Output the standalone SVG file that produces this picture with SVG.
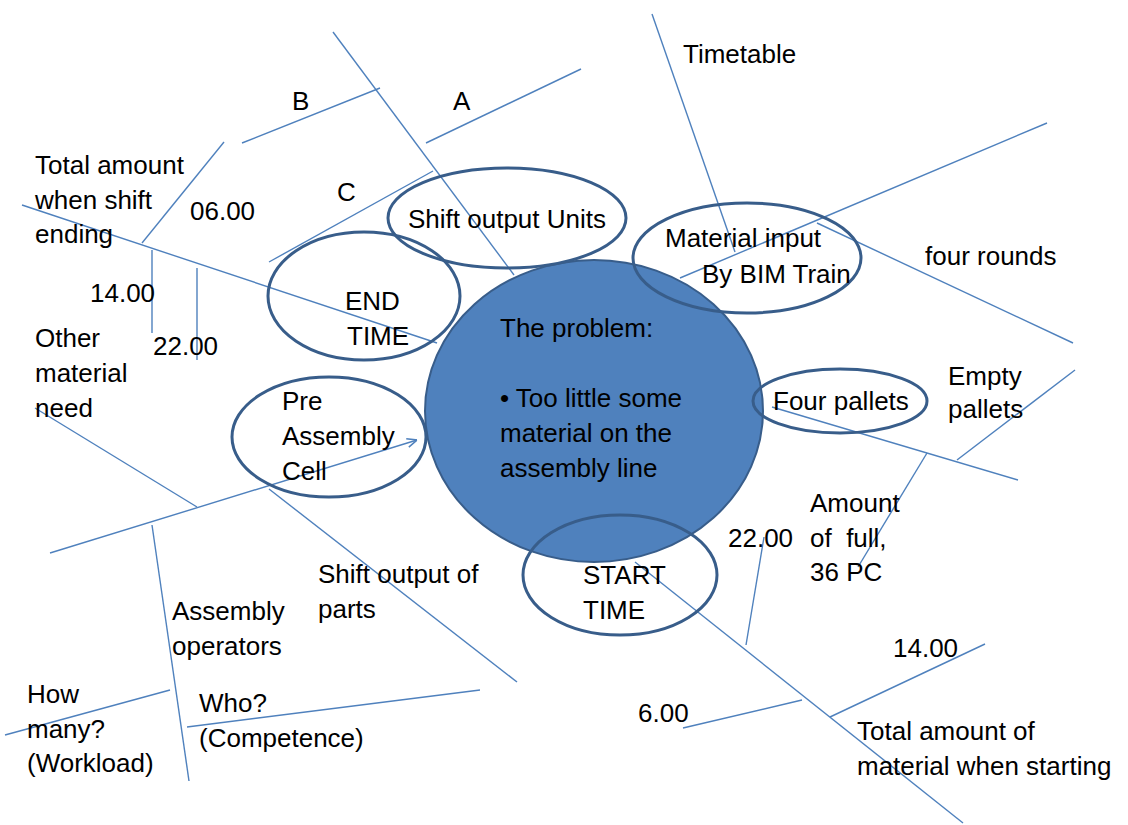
<svg xmlns="http://www.w3.org/2000/svg" width="1128" height="825" viewBox="0 0 1128 825">
<style>
.ln{stroke:#4f81bd;stroke-width:1.4;fill:none}
.el{fill:none;stroke:#385d8a;stroke-width:3}
.t{font-family:"Liberation Sans",Arial,sans-serif;font-size:26px;fill:#000}
</style>
<defs>
<marker id="arr" viewBox="0 0 10 10" refX="10" refY="5" markerWidth="11" markerHeight="11" markerUnits="userSpaceOnUse" orient="auto">
<path d="M1,1 L10,5 L1,9" fill="none" stroke="#4f81bd" stroke-width="1.4"/>
</marker>
</defs>
<rect width="1128" height="825" fill="#fff"/>
<g id="connectors">
<line class="ln" x1="333" y1="32" x2="514" y2="275"/>
<line class="ln" x1="242" y1="143" x2="380" y2="88"/>
<line class="ln" x1="426" y1="143" x2="581" y2="69"/>
<line class="ln" x1="269" y1="262" x2="433" y2="171"/>
<line class="ln" x1="22" y1="205" x2="437" y2="343"/>
<line class="ln" x1="142" y1="243" x2="224" y2="142"/>
<line class="ln" x1="152" y1="250" x2="152" y2="333"/>
<line class="ln" x1="197" y1="268" x2="197" y2="360"/>
<line class="ln" x1="35" y1="408" x2="197" y2="507"/>
<line class="ln" x1="50" y1="553" x2="417" y2="440" marker-end="url(#arr)"/>
<line class="ln" x1="152" y1="525" x2="189" y2="781"/>
<line class="ln" x1="5" y1="735" x2="170" y2="690"/>
<line class="ln" x1="187" y1="727" x2="480" y2="690"/>
<line class="ln" x1="269" y1="489" x2="517" y2="682"/>
<line class="ln" x1="652" y1="14" x2="735" y2="252"/>
<line class="ln" x1="680" y1="278" x2="1047" y2="123"/>
<line class="ln" x1="817" y1="223" x2="1073" y2="343"/>
<line class="ln" x1="772" y1="407" x2="1018" y2="480"/>
<line class="ln" x1="957" y1="460" x2="1075" y2="370"/>
<line class="ln" x1="927" y1="453" x2="858" y2="567"/>
<line class="ln" x1="764" y1="537" x2="746" y2="645"/>
<line class="ln" x1="635" y1="562" x2="963" y2="823"/>
<line class="ln" x1="683" y1="728" x2="802" y2="700"/>
<line class="ln" x1="830" y1="717" x2="985" y2="644"/>
</g>
<g id="problem">
<ellipse cx="594" cy="411" rx="169" ry="151" fill="#4f81bd" stroke="#385d8a" stroke-width="2"/>
<text class="t" x="500" y="337">The problem:</text>
<text class="t" x="500" y="407">• Too little some</text>
<text class="t" x="500" y="442">material on the</text>
<text class="t" x="500" y="477">assembly line</text>
</g>
<g id="shift-output-units">
<ellipse class="el" cx="507" cy="218" rx="119" ry="50"/>
<text class="t" x="408" y="228">Shift output Units</text>
</g>
<g id="end-time">
<ellipse class="el" cx="364" cy="296" rx="96" ry="64"/>
<text class="t" x="345" y="310">END</text>
<text class="t" x="347" y="345">TIME</text>
</g>
<g id="material-input">
<ellipse class="el" cx="747" cy="258" rx="114" ry="55"/>
<text class="t" x="665" y="247">Material input</text>
<text class="t" x="702" y="283">By BIM Train</text>
</g>
<g id="pre-assembly-cell">
<ellipse class="el" cx="329" cy="437" rx="97" ry="60"/>
<text class="t" x="282" y="410">Pre</text>
<text class="t" x="282" y="445">Assembly</text>
<text class="t" x="282" y="480">Cell</text>
</g>
<g id="four-pallets">
<ellipse class="el" cx="840" cy="401" rx="87" ry="32"/>
<text class="t" x="773" y="410">Four pallets</text>
</g>
<g id="start-time">
<ellipse class="el" cx="620" cy="575" rx="97" ry="60"/>
<text class="t" x="583" y="584">START</text>
<text class="t" x="583" y="619">TIME</text>
</g>
<g id="labels">
<text class="t" x="292" y="110">B</text>
<text class="t" x="453" y="110">A</text>
<text class="t" x="337" y="201">C</text>
<text class="t" x="683" y="63">Timetable</text>
<text class="t" x="35" y="174">Total amount</text>
<text class="t" x="35" y="209">when shift</text>
<text class="t" x="35" y="243">ending</text>
<text class="t" x="190" y="220">06.00</text>
<text class="t" x="90" y="302">14.00</text>
<text class="t" x="153" y="355">22.00</text>
<text class="t" x="35" y="347">Other</text>
<text class="t" x="35" y="382">material</text>
<text class="t" x="35" y="417">need</text>
<text class="t" x="925" y="265">four rounds</text>
<text class="t" x="948" y="385">Empty</text>
<text class="t" x="948" y="418">pallets</text>
<text class="t" x="810" y="512">Amount</text>
<text class="t" x="810" y="547">of&#160; full,</text>
<text class="t" x="810" y="581">36 PC</text>
<text class="t" x="728" y="547">22.00</text>
<text class="t" x="318" y="583">Shift output of</text>
<text class="t" x="318" y="618">parts</text>
<text class="t" x="172" y="620">Assembly</text>
<text class="t" x="172" y="655">operators</text>
<text class="t" x="27" y="703">How</text>
<text class="t" x="27" y="738">many?</text>
<text class="t" x="27" y="772">(Workload)</text>
<text class="t" x="199" y="712">Who?</text>
<text class="t" x="199" y="747">(Competence)</text>
<text class="t" x="893" y="657">14.00</text>
<text class="t" x="638" y="722">6.00</text>
<text class="t" x="857" y="740">Total amount of</text>
<text class="t" x="857" y="775">material when starting</text>
</g>
</svg>
